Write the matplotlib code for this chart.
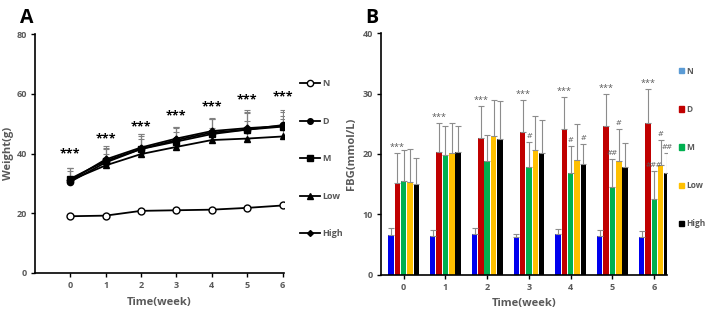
import matplotlib.pyplot as plt
import numpy as np
from matplotlib.lines import Line2D
from matplotlib.patches import Patch

plt.rcParams['font.family'] = ['Open Sans', 'DejaVu Sans']

weeks = [0, 1, 2, 3, 4, 5, 6]
groups = ['N', 'D', 'M', 'Low', 'High']

# Panel A: body weight (g)
weight = {
    'N':    [19.0, 19.2, 20.8, 21.0, 21.2, 21.8, 22.6],
    'D':    [30.5, 37.0, 41.5, 44.5, 47.0, 48.0, 49.5],
    'M':    [31.5, 37.5, 41.5, 44.0, 46.5, 48.0, 49.0],
    'Low':  [31.0, 36.0, 39.8, 42.2, 44.5, 45.0, 45.7],
    'High': [31.0, 38.0, 42.0, 45.0, 47.5, 48.5, 49.2],
}
weight_err = {
    'N':    [0.4, 0.4, 0.4, 0.4, 0.4, 0.4, 0.4],
    'D':    [4.5, 4.5, 4.5, 4.5, 4.5, 5.5, 5.0],
    'M':    [3.5, 4.5, 5.0, 4.5, 5.0, 6.5, 5.0],
    'Low':  [3.0, 4.0, 5.0, 5.0, 4.0, 6.0, 6.0],
    'High': [4.0, 4.5, 4.5, 4.0, 4.5, 5.5, 3.5],
}
weight_star = [39.8, 44.8, 49.0, 52.5, 55.5, 58.0, 59.0]

# Panel B: FBG (mmol/L)
fbg = {
    'N':    [6.6, 6.5, 6.8, 6.3, 6.7, 6.4, 6.3],
    'D':    [15.2, 20.3, 22.7, 23.6, 24.1, 24.7, 25.1],
    'M':    [15.5, 19.8, 18.8, 17.9, 16.9, 14.6, 12.5],
    'Low':  [15.4, 20.2, 23.0, 20.7, 19.0, 18.9, 18.2],
    'High': [15.0, 20.3, 22.5, 20.2, 18.4, 17.9, 16.9],
}
fbg_err = {
    'N':    [1.1, 1.0, 0.9, 0.5, 0.9, 1.1, 1.0],
    'D':    [5.0, 4.9, 5.3, 5.4, 5.3, 5.3, 5.7],
    'M':    [5.2, 4.8, 4.4, 4.1, 4.4, 4.5, 4.7],
    'Low':  [5.5, 4.9, 5.9, 5.6, 6.0, 5.2, 4.1],
    'High': [4.4, 4.4, 6.2, 5.5, 3.2, 3.9, 3.2],
}
# significance marks: (week, group, text)
fbg_marks = [(3, 'M', '#'), (4, 'M', '#'), (4, 'High', '#'),
             (5, 'M', '##'), (5, 'Low', '#'),
             (6, 'M', '###'), (6, 'Low', '#'), (6, 'High', '##')]

markers = {'N': 'o', 'D': 'o', 'M': 's', 'Low': '^', 'High': 'D'}
mfc = {'N': 'white', 'D': 'black', 'M': 'black', 'Low': 'black', 'High': 'black'}
msize = {'N': 5, 'D': 4.5, 'M': 4.5, 'Low': 4.5, 'High': 3.5}
bar_colors = {'N': '#0000EE', 'D': '#C00000', 'M': '#00B050', 'Low': '#FFC000', 'High': '#000000'}
leg_colors = {'N': '#5B9BD5', 'D': '#C00000', 'M': '#00B050', 'Low': '#FFC000', 'High': '#000000'}

txt = '#595959'
fig = plt.figure(figsize=(7.09, 3.12), dpi=100)

# ---------- A ----------
ax1 = fig.add_axes([0.049, 0.125, 0.352, 0.766])
for g in groups:
    ax1.errorbar(weeks, weight[g], yerr=[np.zeros(7), weight_err[g]], color='black',
                 ecolor='#808080', elinewidth=0.8, capsize=2.5, capthick=0.8,
                 marker=markers[g], mfc=mfc[g], mec='black', ms=msize[g], lw=1.3, zorder=3)
for w, s in zip(weeks, weight_star):
    ax1.text(w, s, '***', ha='center', va='center', fontsize=9, fontweight='bold', color='black')
ax1.set_xlim(-1, 6.05)
ax1.set_ylim(0, 80)
ax1.set_xticks(weeks)
ax1.set_yticks([0, 20, 40, 60, 80])
for s in ['top', 'right']:
    ax1.spines[s].set_visible(False)
for s in ['left', 'bottom']:
    ax1.spines[s].set_linewidth(1.2)
ax1.tick_params(labelsize=6.5, colors='black', labelcolor=txt, length=3, width=1, pad=2.5)
for lab in ax1.get_xticklabels() + ax1.get_yticklabels():
    lab.set_fontweight('bold')
ax1.set_xlabel('Time(week)', fontsize=8, fontweight='bold', color=txt, labelpad=5)
ax1.set_ylabel('Weight(g)', fontsize=8, fontweight='bold', color=txt, labelpad=2)
h1 = [Line2D([], [], color='black', marker=markers[g], mfc=mfc[g], mec='black',
             ms=msize[g] - 0.5, lw=1.3) for g in groups]
ax1.legend(h1, groups, loc='upper left', bbox_to_anchor=(1.05, 0.825), frameon=False,
           labelspacing=3.15, handlelength=2.2, handletextpad=0.2, borderaxespad=0,
           labelcolor=txt, prop={'weight': 'bold', 'size': 6.5})
fig.text(0.028, 0.975, 'A', fontsize=14, fontweight='bold', va='top')

# ---------- B ----------
ax2 = fig.add_axes([0.537, 0.119, 0.404, 0.775])
x = np.arange(len(weeks))
bw = 0.13
step = 0.152
for i, g in enumerate(groups):
    pos = x + (i - 2) * step
    ax2.bar(pos, fbg[g], width=bw, color=bar_colors[g], zorder=2)
    ax2.errorbar(pos, fbg[g], yerr=[np.zeros(7), fbg_err[g]], fmt='none',
                 ecolor='#8C8C8C', elinewidth=0.8, capsize=2, capthick=0.8, zorder=3)
for w in weeks:
    top = fbg['D'][w] + fbg_err['D'][w]
    ax2.text(w - step, top + 0.9, '***', ha='center', va='center', fontsize=6.5, color=txt)
for w, g, m in fbg_marks:
    i = groups.index(g)
    top = fbg[g][w] + fbg_err[g][w]
    ax2.text(w + (i - 2) * step, top + 0.9, m, ha='center', va='center', fontsize=6,
             color=txt, style='italic')
ax2.set_xlim(-0.55, 6.31)
ax2.set_ylim(0, 40)
ax2.set_xticks(weeks)
ax2.set_yticks([0, 10, 20, 30, 40])
for s in ['top', 'right']:
    ax2.spines[s].set_visible(False)
for s in ['left', 'bottom']:
    ax2.spines[s].set_linewidth(1.2)
ax2.tick_params(labelsize=6.5, colors='black', labelcolor=txt, length=3, width=1, pad=2.5)
for lab in ax2.get_xticklabels() + ax2.get_yticklabels():
    lab.set_fontweight('bold')
ax2.set_xlabel('Time(week)', fontsize=8, fontweight='bold', color=txt, labelpad=5)
ax2.set_ylabel('FBG(mmol/L)', fontsize=8, fontweight='bold', color=txt, labelpad=4)
h2 = [Patch(color=leg_colors[g]) for g in groups]
ax2.legend(h2, groups, loc='upper left', bbox_to_anchor=(1.03, 0.875), frameon=False,
           labelspacing=3.5, handlelength=0.6, handleheight=0.6, handletextpad=0.3,
           borderaxespad=0, labelcolor=txt, prop={'weight': 'bold', 'size': 6})
fig.text(0.515, 0.975, 'B', fontsize=14, fontweight='bold', va='top')

fig.savefig('out.png', dpi=100)
